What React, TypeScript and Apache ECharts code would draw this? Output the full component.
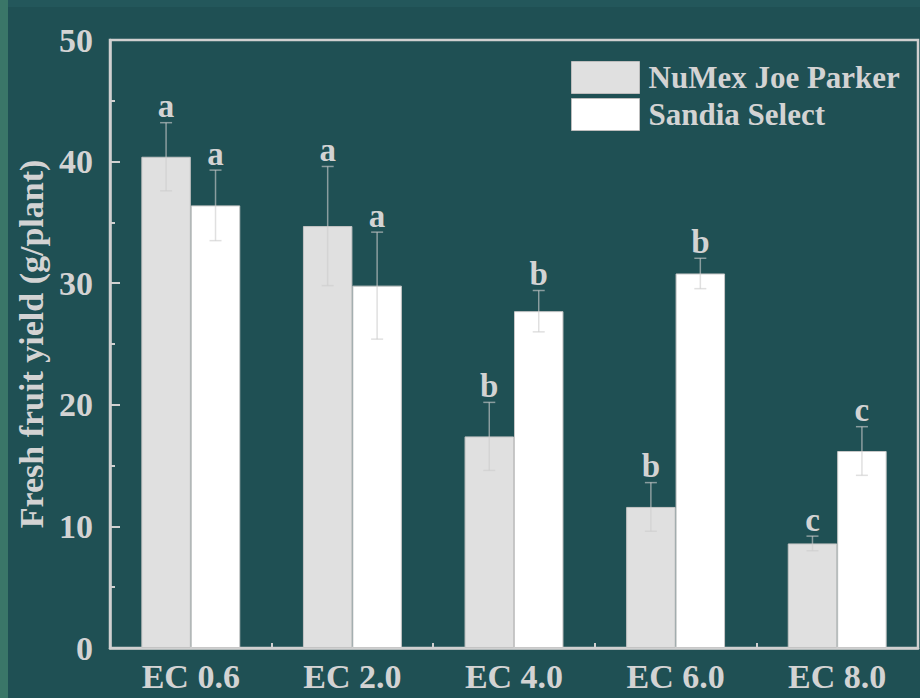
import React, { useEffect, useRef } from "react";
import * as echarts from "echarts";

// Fresh fruit yield per plant across salinity (EC) levels, mean ± error
const categories = ["EC 0.6", "EC 2.0", "EC 4.0", "EC 6.0", "EC 8.0"];
const joeParker = [40.4, 34.7, 17.4, 11.6, 8.6];
const joeParkerErr = [2.8, 4.9, 2.8, 2.0, 0.6];
const joeParkerLetters = ["a", "a", "b", "b", "c"];
const sandia = [36.4, 29.8, 27.7, 30.8, 16.2];
const sandiaErr = [2.9, 4.4, 1.7, 1.25, 2.0];
const sandiaLetters = ["a", "a", "b", "b", "c"];
const seriesNames = ["NuMex Joe Parker", "Sandia Select"];

const BG = "#1f5054";
const INK = "#d3d3d3";
const FONT = "'Liberation Serif', 'Times New Roman', serif";
const BAR_RATIO = 0.306;

function errorSeries(
  name: string,
  values: number[],
  errs: number[],
  letters: string[],
  side: number
) {
  return {
    type: "custom",
    name,
    z: 5,
    silent: true,
    data: values.map((v, i) => [i, v, errs[i]]),
    encode: { x: 0, y: 1 },
    renderItem: (params: any, api: any) => {
      const i = api.value(0);
      const v = api.value(1);
      const e = api.value(2);
      const band = api.size([1, 0])[0];
      const cx = api.coord([i, v])[0] + (side * band * BAR_RATIO) / 2;
      const top = api.coord([i, v + e])[1];
      const bottom = api.coord([i, v - e])[1];
      const cap = 6;
      const lineStyle = { stroke: "rgba(205,205,205,0.62)", lineWidth: 1.5 };
      return {
        type: "group",
        children: [
          { type: "line", shape: { x1: cx, y1: top, x2: cx, y2: bottom }, style: lineStyle },
          { type: "line", shape: { x1: cx - cap, y1: top, x2: cx + cap, y2: top }, style: lineStyle },
          { type: "line", shape: { x1: cx - cap, y1: bottom, x2: cx + cap, y2: bottom }, style: lineStyle },
          {
            type: "text",
            x: cx,
            y: top,
            style: {
              text: letters[params.dataIndex],
              fill: INK,
              font: `bold 33px ${FONT}`,
              textAlign: "center",
              textVerticalAlign: "bottom",
            },
          },
        ],
      };
    },
  };
}

export default function App() {
  const ref = useRef<HTMLDivElement>(null);

  useEffect(() => {
    if (!ref.current) return;
    const chart = echarts.init(ref.current, null, { renderer: "svg" });
    const axisText = { color: INK, fontSize: 34, fontWeight: "bold", fontFamily: FONT };
    chart.setOption({
      animation: false,
      backgroundColor: BG,
      graphic: [
        { type: "rect", left: 0, top: 0, shape: { width: 8, height: 698 }, style: { fill: "#3a7668" }, z: -1 },
        { type: "rect", left: 8, top: 0, shape: { width: 912, height: 7 }, style: { fill: "#23575b" }, z: -1 },
      ],
      grid: {
        left: 110,
        top: 40,
        right: 2,
        bottom: 50,
        show: true,
        borderColor: "#d0d0d0",
        borderWidth: 2.5,
        backgroundColor: "transparent",
      },
      legend: {
        orient: "vertical",
        left: 566,
        top: 56,
        itemWidth: 68,
        itemHeight: 32,
        itemGap: 4,
        icon: "rect",
        textStyle: { color: INK, fontSize: 31, fontWeight: "bold", fontFamily: FONT, lineHeight: 32, padding: [0, 0, 0, 4] },
        data: [
          { name: seriesNames[0], itemStyle: { color: "#e0e0e0", borderColor: "#bdbdbd", borderWidth: 1 } },
          { name: seriesNames[1], itemStyle: { color: "#ffffff", borderColor: "#bdbdbd", borderWidth: 1 } },
        ],
      },
      xAxis: {
        type: "category",
        data: categories,
        axisLine: { lineStyle: { color: "#d0d0d0", width: 2.5 } },
        axisTick: { show: true, inside: true, length: 5, lineStyle: { color: "#d0d0d0", width: 2 } },
        axisLabel: { ...axisText, margin: 11 },
      },
      yAxis: {
        type: "value",
        min: 0,
        max: 50,
        interval: 10,
        name: "Fresh fruit yield (g/plant)",
        nameLocation: "middle",
        nameRotate: 90,
        nameGap: 60,
        nameTextStyle: { color: INK, fontSize: 34, fontWeight: "bold", fontFamily: FONT },
        axisLine: { show: true, lineStyle: { color: "#d0d0d0", width: 2.5 } },
        axisTick: { show: true, inside: true, length: 10, lineStyle: { color: "#d0d0d0", width: 2 } },
        minorTick: { show: true, splitNumber: 2, length: 5, lineStyle: { color: "#d0d0d0", width: 2 } },
        splitLine: { show: false },
        axisLabel: { ...axisText, margin: 17 },
      },
      series: [
        {
          type: "bar",
          name: seriesNames[0],
          data: joeParker,
          barWidth: `${BAR_RATIO * 100}%`,
          barGap: "0%",
          itemStyle: { color: "#e0e0e0", borderColor: "#c4c4c4", borderWidth: 1 },
        },
        {
          type: "bar",
          name: seriesNames[1],
          data: sandia,
          barWidth: `${BAR_RATIO * 100}%`,
          barGap: "0%",
          itemStyle: { color: "#ffffff", borderColor: "#c8c8c8", borderWidth: 1 },
        },
        errorSeries("err-jp", joeParker, joeParkerErr, joeParkerLetters, -1),
        errorSeries("err-ss", sandia, sandiaErr, sandiaLetters, 1),
      ],
    });
    return () => chart.dispose();
  }, []);

  return (
    <div
      ref={ref}
      style={{ position: "fixed", left: 0, top: 0, width: 920, height: 698 }}
    />
  );
}
